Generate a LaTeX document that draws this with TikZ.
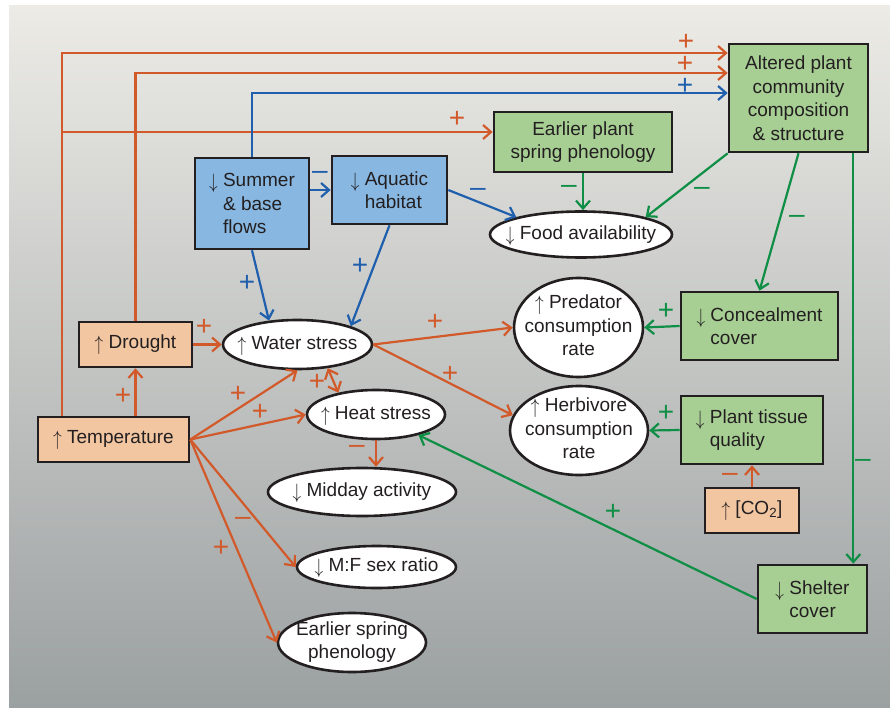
\documentclass[tikz,border=0pt]{standalone}
\usepackage{fontspec}
\setmainfont{Liberation Sans}
\usetikzlibrary{shapes.geometric,arrows.meta,calc}
\definecolor{orl}{HTML}{D2592A}
\definecolor{bll}{HTML}{1F5FAD}
\definecolor{grl}{HTML}{0E8F45}
\definecolor{fo}{HTML}{F3C6A2}
\definecolor{fb}{HTML}{88B8E2}
\definecolor{fg}{HTML}{A7CF94}
\definecolor{ink}{HTML}{231F20}
\definecolor{bgtop}{HTML}{ECEBE6}
\definecolor{bgmid}{HTML}{CFD0CD}
\definecolor{bgbot}{HTML}{9BA0A1}
\newcommand\zt[1]{\makebox[0pt]{\smash{\raisebox{\dimexpr(\depth-\height)/2\relax}{\begin{tabular}{@{}c@{}}#1\end{tabular}}}}}
\newcommand\dn{\raisebox{-2pt}{\scalebox{1}[1.2]{$\downarrow$}}}
\newcommand\up{\raisebox{-2pt}{\scalebox{1}[1.2]{$\uparrow$}}}
\newcommand\ind{\hphantom{\dn\ }}
\tikzset{
  box/.style={draw=ink, line width=2.6pt, rectangle, inner sep=0pt, font=\fontsize{19}{23.5}\selectfont, text=ink},
  ob/.style={box, fill=fo, align=center},
  bb/.style={box, fill=fb, align=left},
  gb/.style={box, fill=fg, align=left},
  ell/.style={draw=ink, line width=2.6pt, ellipse, fill=white, inner sep=0pt, font=\fontsize{19}{23.5}\selectfont, text=ink},
  con/.style={line width=2.2pt, -{Straight Barb[length=8pt,width=14pt]}},
  sg/.style={font=\fontsize{28}{28}\selectfont, inner sep=0pt}
}
\begin{document}
\begin{tikzpicture}[x=1pt,y=-1pt]
\useasboundingbox (0,0) rectangle (890,708);
\fill[white] (0,0) rectangle (890,708);
\shade[top color=bgtop, middle color=bgmid, bottom color=bgbot] (9,6) rectangle (890,708);

% nodes
\node[gb, align=center, minimum width=139, minimum height=108] (alt) at (798.5,98) {Altered plant\\community\\composition\\\& structure};
\node[gb, align=center, minimum width=178, minimum height=60] (earl) at (583,142) {Earlier plant\\spring phenology};
\node[bb, minimum width=114, minimum height=91] (summer) at (252,203.5) {\dn\ Summer\\\ind\& base\\\ind flows};
\node[bb, minimum width=115, minimum height=68] (aq) at (389.5,190) {\dn\ Aquatic\\\ind habitat};
\node[ell, minimum width=182, minimum height=46] (food) at (581,234.5) {\zt{\dn\ Food availability}};
\node[ob, minimum width=113, minimum height=45] (drought) at (135.5,344.5) {\up\ Drought};
\node[ob, minimum width=151, minimum height=45] (temp) at (113.5,439.5) {\up\ Temperature};
\node[ell, minimum width=149, minimum height=49] (water) at (297.5,344.5) {\zt{\up\ Water stress}};
\node[ell, minimum width=138, minimum height=49] (heat) at (376,414.5) {\zt{\up\ Heat stress}};
\node[ell, minimum width=188, minimum height=48] (midday) at (362,492) {\zt{\dn\ Midday activity}};
\node[ell, minimum width=159, minimum height=42] (mf) at (376.5,567) {\zt{\dn\ M:F sex ratio}};
\node[ell, minimum width=148, minimum height=59] (spring) at (352,642.5) {\zt{Earlier spring\\phenology}};
\node[ell, minimum width=129, minimum height=99] (pred) at (578.5,327.5) {\zt{\up\ Predator\\consumption\\rate}};
\node[ell, minimum width=138, minimum height=89] (herb) at (579,430.5) {\zt{\up\ Herbivore\\consumption\\rate}};
\node[gb, minimum width=157, minimum height=68] (conc) at (759.5,326) {\dn\ Concealment\\\ind cover};
\node[gb, minimum width=142, minimum height=68] (tissue) at (752,430) {\dn\ Plant tissue\\\ind quality};
\node[ob, minimum width=94, minimum height=45] (co2) at (752,510.5) {\up\ [CO\textsubscript{2}]};
\node[gb, minimum width=109, minimum height=68] (shelter) at (812.5,599) {\dn\ Shelter\\\ind cover};

% orange connectors
\coordinate (tb) at (63,132);
\draw[con, orl] ($(temp.north west)+(25,0)$) |- ($(alt.west)+(0,-45)$);
\draw[con, orl] (tb) -- (earl.west |- tb);
\draw[con, orl] (drought.north) |- ($(alt.west)+(0,-25)$);
\draw[con, orl] (drought.south |- temp.north) -- (drought.south);
\draw[con, orl] (drought.east) -- (water.west);
\draw[con, orl] (temp.east) -- (water.south);
\draw[con, orl] (temp.east) -- (heat.west);
\draw[con, orl] (temp.east) -- (mf.west);
\draw[con, orl] (temp.east) -- (spring.west);
\draw[con, orl, {Straight Barb[length=8pt,width=14pt]}-{Straight Barb[length=8pt,width=14pt]}] (water.-38) -- (heat.150);
\draw[con, orl] (water.east) -- (pred.west);
\draw[con, orl] (water.east) -- (herb.167);
\draw[con, orl] (heat.south) -- (heat.south |- midday.north);
\draw[con, orl] (co2.north) -- (tissue.south);

% blue connectors
\draw[con, bll] (summer.north) |- ($(alt.west)+(0,-5)$);
\draw[con, bll] (summer.east |- aq.west) -- (aq.west);
\draw[con, bll] (aq.east) -- (food.165);
\draw[con, bll] (summer.south) -- (water.140);
\draw[con, bll] (aq.south) -- (water.19);

% green connectors
\draw[con, grl] (earl.south) -- (earl.south |- food.north);
\draw[con, grl] (alt.south west) -- (food.15);
\draw[con, grl] (alt.south) -- (conc.north);
\draw[con, grl] ($(alt.south east)+(-16,0)$) -- ($(alt.south east |- shelter.north)+(-16,0)$);
\draw[con, grl] (conc.west) -- (pred.east);
\draw[con, grl] (tissue.west) -- (herb.east);
\draw[con, grl] (shelter.west) -- (heat);

% signs
\node[sg, orl] (s1) at (686,42) {+};
\node[sg, orl] (s2) at (685,64) {+};
\node[sg, bll] (s3) at (685,86) {+};
\node[sg, orl] (s4) at (457,119) {+};
\node[sg, bll] (s5) at (320,175) {–};
\node[sg, bll] (s6) at (478,192) {–};
\node[sg, bll] (s7) at (247,283) {+};
\node[sg, bll] (s8) at (360,266) {+};
\node[sg, grl] (s9) at (569,189) {–};
\node[sg, grl] (s10) at (702,191) {–};
\node[sg, grl] (s11) at (797,219) {–};
\node[sg, grl] (s12) at (863,463) {–};
\node[sg, grl] (s13) at (666,311) {+};
\node[sg, grl] (s14) at (666,413) {+};
\node[sg, grl] (s15) at (613,512) {+};
\node[sg, orl] (s16) at (730,477) {–};
\node[sg, orl] (s17) at (123,396) {+};
\node[sg, orl] (s18) at (204,327) {+};
\node[sg, orl] (s19) at (238,394) {+};
\node[sg, orl] (s20) at (260,412) {+};
\node[sg, orl] (s21) at (317,382) {+};
\node[sg, orl] (s22) at (435,322) {+};
\node[sg, orl] (s23) at (450,374) {+};
\node[sg, orl] (s24) at (357,449) {–};
\node[sg, orl] (s25) at (243,521) {–};
\node[sg, orl] (s26) at (221,548) {+};
\end{tikzpicture}
\end{document}
